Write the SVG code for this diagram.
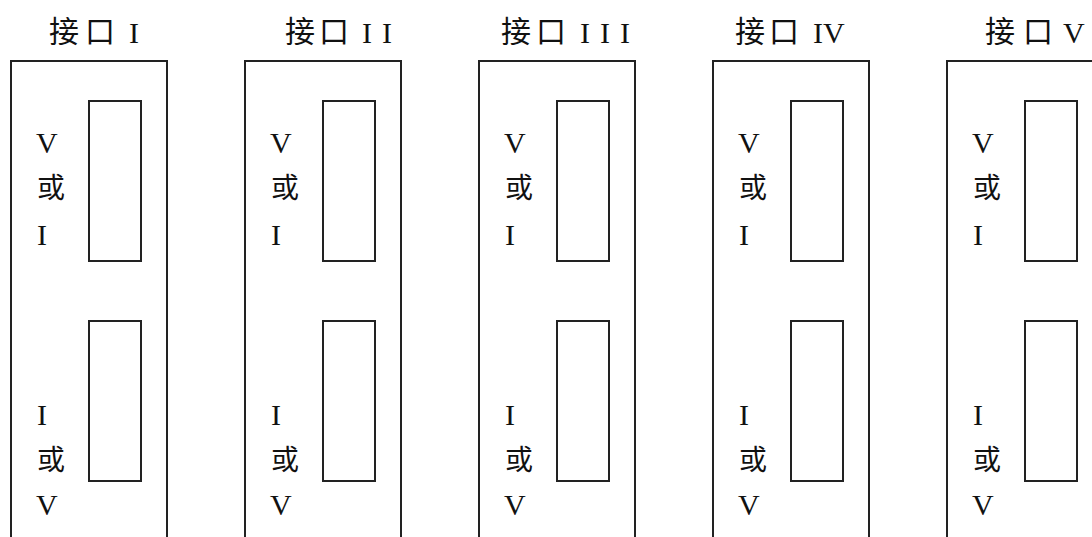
<svg xmlns="http://www.w3.org/2000/svg" width="1092" height="537" viewBox="0 0 1092 537">
<style>
.box{fill:none;stroke:#222;stroke-width:2}
.t{font-family:"Liberation Serif","Noto Sans CJK SC",serif;font-size:30px;fill:#111}
.c{font-family:"Noto Sans CJK SC",sans-serif;font-size:28px;fill:#111}
.h{font-family:"Noto Sans CJK SC",sans-serif;font-size:30px;fill:#111}
</style>
<rect width="1092" height="537" fill="#fff"/>
<defs>
<g id="panel">
<rect class="box" x="0" y="0" width="156" height="500"/>
<rect class="box" x="78" y="40" width="52" height="160"/>
<rect class="box" x="78" y="260" width="52" height="160"/>
<text class="t" x="25" y="92">V</text>
<text class="c" x="26" y="137">或</text>
<text class="t" x="26" y="184">I</text>
<text class="t" x="26" y="364">I</text>
<text class="c" x="26" y="409">或</text>
<text class="t" x="25" y="454">V</text>
</g>
</defs>
<g id="node1"><use href="#panel" x="11" y="61"/>
<text class="h" x="49" y="42">接</text><text class="h" x="85" y="42">口</text><text class="t" x="129" y="43">I</text></g>
<g id="node2"><use href="#panel" x="245" y="61"/>
<text class="h" x="285" y="42">接</text><text class="h" x="319" y="42">口</text><text class="t" x="362" y="43">I</text><text class="t" x="382" y="43">I</text></g>
<g id="node3"><use href="#panel" x="479" y="61"/>
<text class="h" x="501" y="42">接</text><text class="h" x="536" y="42">口</text><text class="t" x="580" y="43">I</text><text class="t" x="600" y="43">I</text><text class="t" x="620" y="43">I</text></g>
<g id="node4"><use href="#panel" x="713" y="61"/>
<text class="h" x="735" y="42">接</text><text class="h" x="769" y="42">口</text><text class="t" x="813" y="43">IV</text></g>
<g id="node5"><use href="#panel" x="947" y="61"/>
<text class="h" x="985" y="42">接</text><text class="h" x="1023" y="42">口</text><text class="t" x="1063" y="43">V</text></g>
<g id="connectors"></g>
</svg>
